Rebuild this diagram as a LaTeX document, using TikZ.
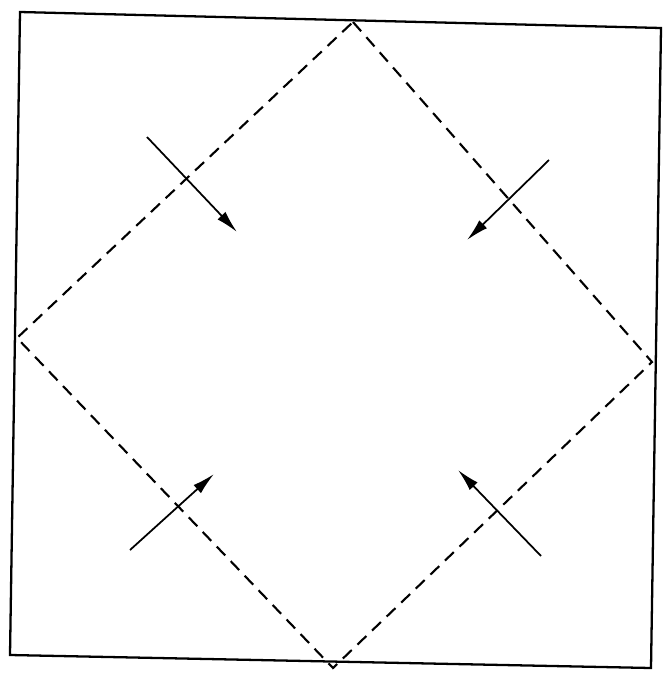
\documentclass[tikz,border=0pt]{standalone}
\usepackage{xcolor}
\usetikzlibrary{arrows,arrows.meta,positioning,calc}

\begin{document}
\begin{tikzpicture}[>={Latex[length=4.5mm,width=2.2mm]},x=0.02cm,y=-0.02cm,
frame/.style={draw,line width=1.3pt},
dline/.style={draw,line width=1.2pt,dash pattern=on 7pt off 4.5pt},
flux/.style={->,line width=1pt}]
\useasboundingbox (0,0) rectangle (663,683);
% frame corners
\coordinate (tl) at (20,12);
\coordinate (tr) at (661,28);
\coordinate (br) at (651,668);
\coordinate (bl) at (10,655);
\draw[frame] (tl)--(tr)--(br)--(bl)--cycle;
% diamond
\coordinate (dt) at (353,22);
\coordinate (dr) at (652,362);
\coordinate (db) at (333,668);
\coordinate (dl) at (17,338);
\draw[dline] (dt)--(dr)--(db)--(dl)--cycle;
% arrows
\coordinate (a1) at (147,137);  \coordinate (b1) at (237,232);
\coordinate (a2) at (549,160);  \coordinate (b2) at (467,240);
\coordinate (a3) at (130,550);  \coordinate (b3) at (214,474);
\coordinate (a4) at (541,556);  \coordinate (b4) at (458,470);
\foreach \i in {1,2,3,4}
  \draw[flux] (a\i)--(b\i);
\end{tikzpicture}
\end{document}
